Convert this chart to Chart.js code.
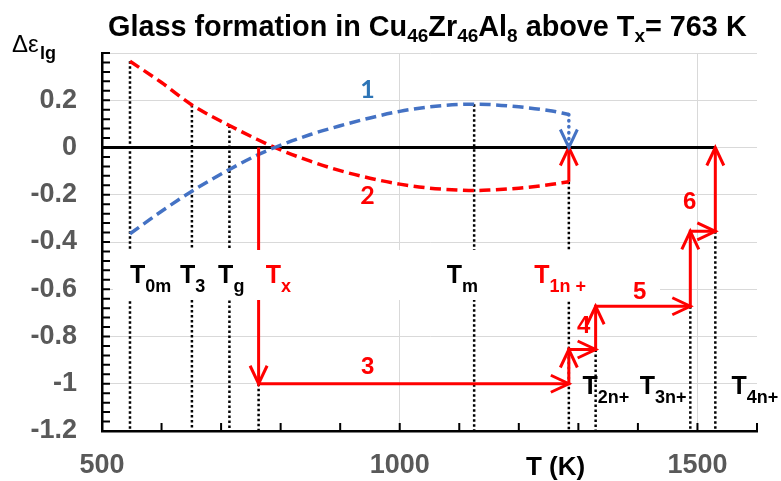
<!DOCTYPE html>
<html>
<head>
<meta charset="utf-8">
<title>Glass formation in Cu46Zr46Al8</title>
<script src="https://cdn.jsdelivr.net/npm/chart.js@4.4.1/dist/chart.umd.min.js"></script>
<style>
  html, body { margin: 0; padding: 0; background: #fff; }
  #wrap { width: 781px; height: 481px; position: relative; }
</style>
</head>
<body>
<div id="wrap"><canvas id="chart"></canvas></div>
<script>
'use strict';

// Axis ticks
const X_TICKS = [500, 1000, 1500];
const X_MINOR = [500, 600, 700, 800, 900, 1000, 1100, 1200, 1300, 1400, 1500, 1600];
const Y_TICKS = [-1.2, -1, -0.8, -0.6, -0.4, -0.2, 0, 0.2, 0.4];
const Y_TICK_LABELS = ['-1.2', '-1', '-0.8', '-0.6', '-0.4', '-0.2', '0', '0.2', ''];

// Curves 1 and 2 (Δε_lg vs T)
const CURVE_T = [547, 600, 651, 714, 760, 790, 850, 900, 950, 1000, 1050, 1100, 1125, 1150, 1200, 1250, 1284];
const CURVE_1 = [-0.365, -0.27, -0.185, -0.093, -0.033, 0.0, 0.055, 0.092, 0.125, 0.153, 0.172, 0.182, 0.183, 0.182, 0.172, 0.157, 0.14];
const CURVE_2 = [0.365, 0.275, 0.18, 0.093, 0.035, 0.0, -0.058, -0.098, -0.13, -0.155, -0.172, -0.18, -0.182, -0.18, -0.172, -0.158, -0.145];

// Drops onto the zero line at T1n+
const DROP_T = [1284, 1284];
const DROP_1 = [0.14, 0];
const DROP_2 = [-0.145, 0];

// Zero line
const ZERO_T = [500, 1530];
const ZERO_V = [0, 0];

// Red path 3 -> 6
const PATH_T = [763, 763, 1284, 1284, 1329, 1329, 1488, 1488, 1530, 1530];
const PATH_V = [0, -1, -1, -0.855, -0.855, -0.672, -0.672, -0.355, -0.355, 0];

// Dotted guides: T0m, T3, Tg, Tx, Tm, T1n+, T2n+, T3n+, T4n+
const GUIDE_T = [547, 651, 714, 763, 1125, 1284, 1329, 1488, 1530];
const GUIDE_TOP = [0.365, 0.18, 0.093, -1, 0.183, -0.145, -0.855, -0.672, -0.355];
const GUIDE_BOTTOM = -1.2;

const RED = '#ff0000';
const BLUE = '#4472c4';
const GREY = '#595959';
const SANS = '"Liberation Sans", Arial, sans-serif';

const pts = (xs, ys) => xs.map((x, i) => ({ x, y: ys[i] }));

function guidePoints() {
  const out = [];
  GUIDE_T.forEach((t, i) => {
    out.push({ x: t, y: GUIDE_TOP[i] }, { x: t, y: GUIDE_BOTTOM }, { x: t, y: null });
  });
  return out;
}

/* ─── Text labels (anchored in data units) ─── */
const T_LABELS = [
  { x: 547, y: -0.572, color: '#000', runs: [['T', 0], ['0m', 1]] },
  { x: 631, y: -0.572, color: '#000', runs: [['T', 0], ['3', 1]] },
  { x: 695, y: -0.572, color: '#000', runs: [['T', 0], ['g', 1]] },
  { x: 775, y: -0.572, color: RED, runs: [['T', 0], ['x', 1]] },
  { x: 1079, y: -0.572, color: '#000', runs: [['T', 0], ['m', 1]] },
  { x: 1226, y: -0.572, color: RED, runs: [['T', 0], ['1n +', 1]] },
  { x: 1307, y: -1.042, color: '#000', runs: [['T', 0], ['2n+', 1]] },
  { x: 1403, y: -1.042, color: '#000', runs: [['T', 0], ['3n+', 1]] },
  { x: 1557, y: -1.042, color: '#000', runs: [['T', 0], ['4n+', 1]] }
];

const NUM_LABELS = [
  { text: '1', x: 946, y: 0.242, color: '#2e75b6', font: 'bold 25px Lato, sans-serif' },
  { text: '2', x: 946, y: -0.203, color: RED, font: 'bold 25px Lato, sans-serif' },
  { text: '3', x: 946, y: -0.932, color: RED, font: 'bold 24px ' + SANS },
  { text: '4', x: 1309, y: -0.758, color: RED, font: 'bold 24px ' + SANS },
  { text: '5', x: 1403, y: -0.614, color: RED, font: 'bold 24px ' + SANS },
  { text: '6', x: 1487, y: -0.233, color: RED, font: 'bold 24px ' + SANS }
];

function drawRuns(ctx, x, y, runs, big, small, drop, color, weight) {
  ctx.fillStyle = color;
  ctx.textAlign = 'left';
  ctx.textBaseline = 'alphabetic';
  runs.forEach(([t, sub]) => {
    ctx.font = `${weight} ${sub ? small : big}px ${SANS}`;
    ctx.fillText(t, x, y + (sub ? drop : 0));
    x += ctx.measureText(t).width;
  });
}

const minorTicks = {
  id: 'minorTicks',
  beforeDatasetsDraw(chart) {
    const { ctx, scales: { x, y } } = chart;
    ctx.save();
    ctx.strokeStyle = '#000';
    ctx.lineWidth = 2;
    ctx.beginPath();
    X_MINOR.forEach(v => {
      const px = x.getPixelForValue(v);
      ctx.moveTo(px, y.bottom);
      ctx.lineTo(px, y.bottom - 8);
    });
    for (let k = 0; k <= 40; k++) {
      const py = y.getPixelForValue(-1.2 + k * 0.04);
      ctx.moveTo(x.left, py);
      ctx.lineTo(x.left + 8, py);
    }
    ctx.stroke();
    ctx.restore();
  }
};

const arrowHeads = {
  id: 'arrowHeads',
  afterDatasetsDraw(chart) {
    const { ctx } = chart;
    ctx.save();
    chart.data.datasets.forEach((ds, di) => {
      if (!ds.arrows) return;
      const el = chart.getDatasetMeta(di).data;
      const idx = ds.arrows === 'all' ? el.map((_, i) => i).slice(1) : [el.length - 1];
      ctx.strokeStyle = ds.borderColor;
      ctx.lineWidth = 3;
      ctx.lineJoin = 'miter';
      ctx.setLineDash([]);
      idx.forEach(i => {
        const p = el[i], q = el[i - 1];
        let dx = p.x - q.x, dy = p.y - q.y;
        const len = Math.hypot(dx, dy) || 1;
        dx /= len; dy /= len;
        const L = 18, W = 8.5;
        ctx.beginPath();
        ctx.moveTo(p.x - dx * L - dy * W, p.y - dy * L + dx * W);
        ctx.lineTo(p.x, p.y);
        ctx.lineTo(p.x - dx * L + dy * W, p.y - dy * L - dx * W);
        ctx.stroke();
      });
    });
    ctx.restore();
  }
};

const annotations = {
  id: 'annotations',
  afterDatasetsDraw(chart) {
    const { ctx, scales: { x, y } } = chart;
    ctx.save();

    // white label band hiding the guides
    ctx.fillStyle = '#fff';
    ctx.fillRect(113, 250, 547, 50);

    T_LABELS.forEach(l => {
      drawRuns(ctx, x.getPixelForValue(l.x), y.getPixelForValue(l.y), l.runs, 25, 18, 9, l.color, 'bold');
    });

    ctx.textAlign = 'center';
    ctx.textBaseline = 'middle';
    NUM_LABELS.forEach(l => {
      ctx.font = l.font;
      ctx.fillStyle = l.color;
      ctx.fillText(l.text, x.getPixelForValue(l.x), y.getPixelForValue(l.y));
    });

    // title
    drawRuns(ctx, 108, 36, [
      ['Glass formation in Cu', 0], ['46', 1], ['Zr', 0], ['46', 1], ['Al', 0], ['8', 1],
      [' above T', 0], ['x', 1], ['= 763 K', 0]
    ], 28.8, 19, 6, '#000', 'bold');

    // y-axis title Δε_lg
    ctx.font = `24px ${SANS}`;
    ctx.fillStyle = '#000';
    ctx.textAlign = 'left';
    ctx.textBaseline = 'alphabetic';
    ctx.fillText('Δε', 12, 52);
    ctx.font = `bold 18px ${SANS}`;
    ctx.fillText('lg', 40, 59);

    // x-axis title
    ctx.font = `bold 26px ${SANS}`;
    ctx.fillText('T (K)', 526, 475);
    ctx.restore();
  }
};

const lineDs = (data, color, width, dash, order, extra) => Object.assign({
  data, borderColor: color, backgroundColor: color, borderWidth: width,
  borderDash: dash, showLine: true, pointRadius: 0, fill: false, order
}, extra || {});

new Chart(document.getElementById('chart'), {
  type: 'scatter',
  data: {
    datasets: [
      lineDs(pts(PATH_T, PATH_V), RED, 3, [], 1, { arrows: 'all', tension: 0 }),
      lineDs(pts(DROP_T, DROP_2), RED, 3, [], 2, { arrows: 'last' }),
      lineDs(pts(DROP_T, DROP_1), BLUE, 3.5, [0.5, 5.5], 3, { arrows: 'last', borderCapStyle: 'round' }),
      lineDs(pts(CURVE_T, CURVE_1), BLUE, 3.5, [11, 5.5], 4, { cubicInterpolationMode: 'monotone' }),
      lineDs(pts(CURVE_T, CURVE_2), RED, 3.5, [11, 5.5], 5, { cubicInterpolationMode: 'monotone' }),
      lineDs(pts(ZERO_T, ZERO_V), '#000', 3, [], 6),
      lineDs(guidePoints(), '#000', 2.5, [2.5, 2.5], 7, { spanGaps: false })
    ]
  },
  options: {
    responsive: true,
    maintainAspectRatio: false,
    animation: false,
    events: [],
    layout: { padding: { left: 0, top: 53, right: 24, bottom: 0 } },
    plugins: { legend: { display: false }, tooltip: { enabled: false }, title: { display: false } },
    scales: {
      x: {
        type: 'linear', min: 500, max: 1600,
        afterBuildTicks: s => { s.ticks = X_TICKS.map(v => ({ value: v })); },
        afterFit: s => { s.height = 50; },
        grid: { color: '#d9d9d9', lineWidth: 1, drawTicks: false },
        border: { color: '#000', width: 2.5 },
        ticks: {
          color: GREY, padding: 18, font: { family: SANS, size: 27, weight: 'bold' },
          callback: v => String(v)
        }
      },
      y: {
        type: 'linear', min: -1.2, max: 0.4,
        afterBuildTicks: s => { s.ticks = Y_TICKS.map(v => ({ value: v })); },
        afterFit: s => { s.width = 102; },
        grid: { color: '#d9d9d9', lineWidth: 1, drawTicks: false },
        border: { color: '#000', width: 2.5 },
        ticks: {
          color: GREY, padding: 25, font: { family: SANS, size: 27, weight: 'bold' },
          callback: (v, i) => Y_TICK_LABELS[i]
        }
      }
    }
  },
  plugins: [minorTicks, arrowHeads, annotations]
});
</script>
</body>
</html>
